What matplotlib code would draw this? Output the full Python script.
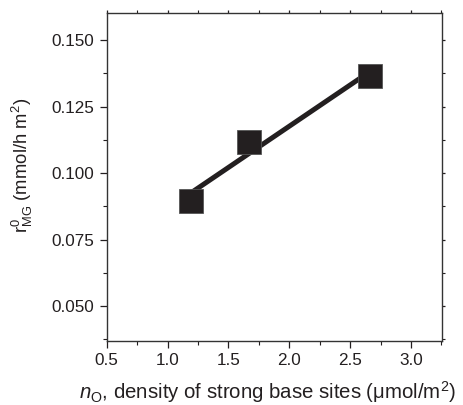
import numpy as np
import matplotlib
matplotlib.use("Agg")
import matplotlib.pyplot as plt
from matplotlib.ticker import MultipleLocator

# Data
density = [1.19, 1.67, 2.66]          # n_O, umol/m^2
rate = [0.0895, 0.1118, 0.1366]       # r0_MG, mmol/h m^2
xticks = [0.5, 1.0, 1.5, 2.0, 2.5, 3.0]
yticks = [0.050, 0.075, 0.100, 0.125, 0.150]

plt.rcParams['font.family'] = ['Liberation Sans', 'DejaVu Sans']
plt.rcParams['mathtext.fontset'] = 'custom'
plt.rcParams['mathtext.rm'] = 'Liberation Sans'
plt.rcParams['mathtext.it'] = 'Liberation Sans:italic'
plt.rcParams['mathtext.bf'] = 'Liberation Sans:bold'

fig = plt.figure(figsize=(4.63, 4.05), dpi=100)
ax = fig.add_axes([0.2305, 0.1588, 0.954 - 0.2305, 0.967 - 0.1588])

# linear fit line through points
coef = np.polyfit(density, rate, 1)
xf = np.array([min(density), max(density)])
ax.plot(xf, np.polyval(coef, xf), color='#231f20', lw=3.6, solid_capstyle='butt', zorder=2)
ax.plot(density, rate, ls='none', marker='s', ms=17, color='#231f20',
        mec='#555555', mew=0.6, zorder=3)

ax.set_xlim(0.5, 3.252)
ax.set_ylim(0.037, 0.160)
ax.set_xticks(xticks)
ax.set_yticks(yticks)
ax.set_xticklabels([f"{v:.1f}" for v in xticks])
ax.set_yticklabels([f"{v:.3f}" for v in yticks])
ax.xaxis.set_minor_locator(MultipleLocator(0.25))
ax.yaxis.set_minor_locator(MultipleLocator(0.0125))

ax.tick_params(which='major', direction='out', length=5, width=0.9, labelsize=12.3,
               colors='#231f20', pad=4)
ax.tick_params(which='minor', direction='out', length=3, width=0.8, colors='#231f20')
ax.tick_params(which='both', top=True, right=True, labeltop=False, labelright=False)
for t in ax.xaxis.get_major_ticks() + ax.xaxis.get_minor_ticks():
    t.tick2line.set_markersize(2)
for t in ax.yaxis.get_major_ticks() + ax.yaxis.get_minor_ticks():
    t.tick2line.set_markersize(2)

for s in ax.spines.values():
    s.set_linewidth(1.0)
    s.set_color('#333333')

ax.set_xlabel(r'$\mathit{n}_{\mathregular{O}}$, density of strong base sites ($\mathregular{\mu}$mol/m$^{\mathregular{2}}$)',
              fontsize=14.7, color='#231f20')
ax.set_ylabel(r'r$^{\mathregular{0}}_{\mathregular{MG}}$ (mmol/h m$^{\mathregular{2}}$)',
              fontsize=13.3, color='#231f20')
ax.xaxis.set_label_coords(0.48, -0.118, transform=ax.transAxes)
ax.yaxis.set_label_coords(-0.215, 0.535, transform=ax.transAxes)
ax.xaxis.label.set_va('top')

fig.savefig('out.png', dpi=100)
